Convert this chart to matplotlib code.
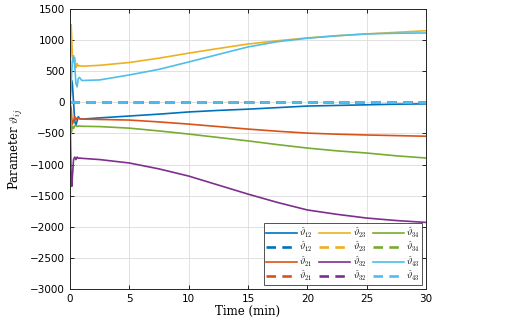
import numpy as np
import matplotlib.pyplot as plt

plt.rcParams['mathtext.fontset'] = 'cm'

# time samples (min)
t = [0, 0.05, 0.1, 0.15, 0.2, 0.3, 0.4, 0.5, 0.6, 0.7, 0.8, 1.0,
     2.5, 5, 7.5, 10, 12.5, 15, 17.5, 20, 22.5, 25, 27.5, 30]

th12 = [0, 200, 350, 350, 300, 0, -300, -370, -300, -230, -260, -270,
        -250, -220, -190, -155, -130, -110, -85, -60, -50, -40, -30, -25]
th21 = [0, -50, -100, -250, -350, -300, -230, -280, -250, -250, -265, -270,
        -275, -285, -315, -350, -390, -430, -465, -495, -512, -525, -535, -545]
th23 = [0, 900, 1250, 1000, 750, 650, 720, 560, 620, 580, 590, 580,
        595, 640, 710, 790, 865, 937, 990, 1035, 1070, 1098, 1125, 1150]
th32 = [0, -700, -1250, -1350, -1200, -920, -880, -920, -880, -900, -895, -900,
        -920, -975, -1070, -1185, -1330, -1475, -1610, -1730, -1800, -1860, -1900, -1930]
th34 = [0, -300, -500, -450, -380, -420, -380, -370, -390, -380, -380, -385,
        -390, -415, -460, -510, -565, -620, -680, -735, -780, -815, -860, -895]
th43 = [0, 150, 300, 500, 650, 750, 600, 300, 250, 380, 400, 350,
        360, 440, 530, 648, 770, 890, 975, 1030, 1070, 1100, 1110, 1115]

# dashed references (all zero)
ref = [0] * len(t)

series = [('12', th12, '#0072BD'), ('21', th21, '#D95319'),
          ('23', th23, '#EDB120'), ('32', th32, '#7E2F8E'),
          ('34', th34, '#77AC30'), ('43', th43, '#4DBEEE')]

fig = plt.figure(figsize=(5.05, 3.22), dpi=100)
ax = fig.add_axes([0.1386, 0.1025, 0.705, 0.8696])

for idx, vals, col in series:
    ax.plot(t, vals, color=col, lw=1.2, label=r'$\hat{\vartheta}_{%s}$' % idx)
    ax.plot(t, ref, color=col, lw=1.9, linestyle=(0, (3.6, 2.4)),
            label=r'$\hat{\vartheta}_{%s}$' % idx)

ax.set_xlim(0, 30)
ax.set_ylim(-3000, 1500)
ax.set_xticks(np.arange(0, 31, 5))
ax.set_yticks(np.arange(-3000, 1501, 500))
ax.tick_params(direction='in', top=True, right=True, labelsize=7.5, length=3, width=0.6)
ax.grid(True, color='#dcdcdc', lw=0.6)
ax.set_axisbelow(True)
for s in ax.spines.values():
    s.set_linewidth(0.7)
    s.set_color('#262626')

ax.set_xlabel('Time (min)', family='serif', fontsize=8.5, labelpad=1)
ax.set_ylabel(r'Parameter $\vartheta_{ij}$', family='serif', fontsize=8.5, labelpad=4)

leg = ax.legend(ncol=3, loc='lower right', fontsize=6.5, frameon=True, fancybox=False,
                handlelength=3.4, handletextpad=0.3, columnspacing=0.7,
                labelspacing=0.05, borderpad=0.25, borderaxespad=0.4)
leg.get_frame().set_edgecolor('#262626')
leg.get_frame().set_linewidth(0.7)

plt.savefig('out.png', dpi=100)
